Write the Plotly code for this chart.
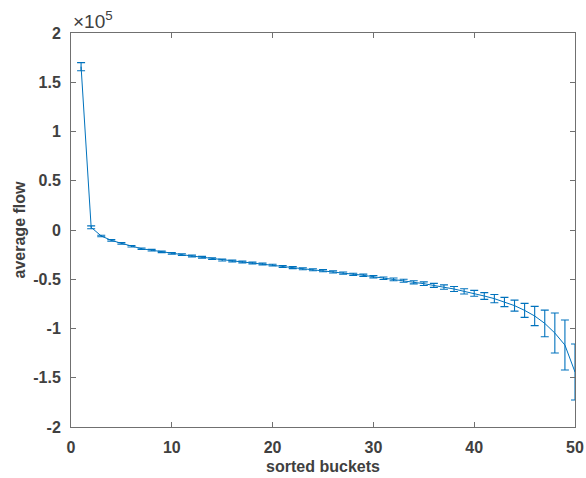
import plotly.graph_objects as go

buckets = list(range(1, 51))
avg_flow_e5 = [1.658, 0.027, -0.061, -0.105, -0.135, -0.165, -0.19, -0.205, -0.222, -0.238,
               -0.25, -0.264, -0.277, -0.291, -0.305, -0.315, -0.325, -0.335, -0.345, -0.356,
               -0.371, -0.382, -0.393, -0.403, -0.413, -0.426, -0.437, -0.45, -0.46, -0.474,
               -0.49, -0.501, -0.515, -0.531, -0.545, -0.562, -0.579, -0.599, -0.623, -0.643,
               -0.670, -0.697, -0.731, -0.768, -0.816, -0.873, -0.948, -1.046, -1.168, -1.442]
err_e5 = [0.041, 0.015, 0.008, 0.008, 0.008, 0.008, 0.008, 0.008, 0.008, 0.008,
          0.009, 0.009, 0.009, 0.009, 0.009, 0.009, 0.009, 0.009, 0.009, 0.009,
          0.010, 0.010, 0.010, 0.010, 0.011, 0.011, 0.011, 0.011, 0.012, 0.012,
          0.013, 0.014, 0.015, 0.016, 0.018, 0.020, 0.022, 0.025, 0.027, 0.030,
          0.034, 0.042, 0.047, 0.056, 0.071, 0.098, 0.135, 0.203, 0.254, 0.284]
scale = 1e5
avg_flow = [v * scale for v in avg_flow_e5]
err = [e * scale for e in err_e5]

x_ticks = [0, 10, 20, 30, 40, 50]
y_tick_labels = ["-2", "-1.5", "-1", "-0.5", "0", "0.5", "1", "1.5", "2"]
y_ticks = [float(t) * scale for t in y_tick_labels]

color = "#0072BD"
axis_color = "#707070"
text_color = "#404040"
font = "Liberation Sans, Arial, Helvetica, sans-serif"

fig = go.Figure()
fig.add_trace(go.Scatter(
    x=buckets, y=avg_flow, mode="lines",
    line=dict(color=color, width=1),
    error_y=dict(type="data", array=err, visible=True, color=color, thickness=1.1, width=4),
    showlegend=False,
))

axis_common = dict(
    showline=True, linecolor=axis_color, linewidth=1, mirror="ticks",
    ticks="inside", ticklen=5, tickcolor=axis_color, tickwidth=1,
    showgrid=False, zeroline=False, automargin=False,
    tickfont=dict(family=font, size=16, color=text_color),
    ticklabelstandoff=6,
)

fig.update_xaxes(
    range=[0, 50], tickvals=x_ticks, ticktext=["<b>%d</b>" % t for t in x_ticks],
    title=dict(text="<b>sorted buckets</b>", font=dict(family=font, size=16, color=text_color), standoff=5),
    **axis_common,
)
fig.update_yaxes(
    range=[-2 * scale, 2 * scale], tickvals=y_ticks,
    ticktext=["<b>%s</b>" % t for t in y_tick_labels],
    title=dict(text="<b>average flow</b>", font=dict(family=font, size=16, color=text_color), standoff=3),
    **axis_common,
)

fig.add_annotation(
    xref="paper", yref="paper", x=0, y=1, xanchor="left", yanchor="bottom",
    text="×10<sup>5</sup>", showarrow=False, yshift=-1,
    font=dict(family=font, size=19, color=text_color),
)

fig.update_layout(
    width=586, height=478,
    margin=dict(l=71, r=11, t=33, b=51),
    paper_bgcolor="white", plot_bgcolor="white",
)

fig.write_html(
    "out.html",
    post_script="document.body.style.margin='0';document.body.style.overflow='hidden';",
)
